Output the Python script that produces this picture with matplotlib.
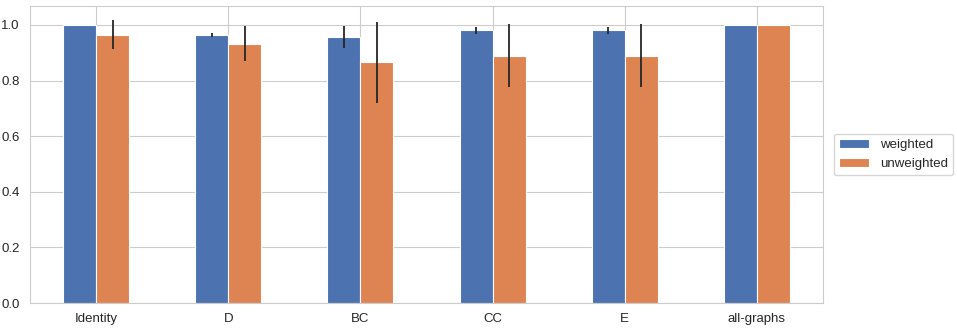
import matplotlib
matplotlib.use("Agg")
import matplotlib.pyplot as plt
import numpy as np
import seaborn as sns

sns.set_style("whitegrid")
plt.rcParams['font.family'] = ['Liberation Sans', 'DejaVu Sans']

categories = ["Identity", "D", "BC", "CC", "E", "all-graphs"]
weighted = [1.0, 0.964, 0.956, 0.980, 0.980, 1.0]
weighted_err = [0.0, 0.008, 0.040, 0.013, 0.012, 0.0]
unweighted = [0.964, 0.932, 0.866, 0.890, 0.890, 1.0]
unweighted_err = [0.052, 0.063, 0.146, 0.113, 0.113, 0.0]
series_names = ["weighted", "unweighted"]

colors = ["#4C72B0", "#DD8452"]

fig = plt.figure(figsize=(9.57, 3.28), dpi=100)
ax = fig.add_axes([30/957, 1 - 303/328, (823 - 30)/957, (303 - 6)/328])

x = np.arange(len(categories))
w = 0.25
ax.bar(x - w/2, weighted, w, yerr=weighted_err, color=colors[0], edgecolor="white",
       linewidth=0.8, label=series_names[0],
       error_kw=dict(ecolor="#262626", elinewidth=1.3, capsize=0))
ax.bar(x + w/2, unweighted, w, yerr=unweighted_err, color=colors[1], edgecolor="white",
       linewidth=0.8, label=series_names[1],
       error_kw=dict(ecolor="#262626", elinewidth=1.3, capsize=0))

ax.set_xticks(x)
ax.set_xticklabels(categories)
ax.set_xlim(-0.5, len(categories) - 0.5)
ax.set_ylim(0, 1.068)
ax.set_yticks([0.0, 0.2, 0.4, 0.6, 0.8, 1.0])
ax.tick_params(axis='both', labelsize=9.5, colors="#262626", pad=4)
ax.set_axisbelow(True)
for s in ax.spines.values():
    s.set_color("#cccccc")

leg = ax.legend(loc="center left", bbox_to_anchor=(1.005, 0.5), fontsize=9.5,
                frameon=True, handlelength=2.3)

fig.savefig("out.png", dpi=100)
